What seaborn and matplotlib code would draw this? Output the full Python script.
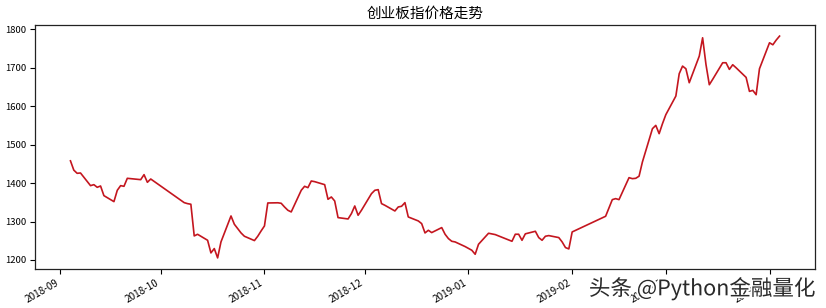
import matplotlib
matplotlib.use("Agg")
import matplotlib.pyplot as plt
import matplotlib.dates as mdates
import matplotlib.patheffects as pe
import seaborn as sns
import pandas as pd

dates = [
    "2018-09-04", "2018-09-05", "2018-09-06", "2018-09-07",
    "2018-09-10", "2018-09-11", "2018-09-12", "2018-09-13", "2018-09-14",
    "2018-09-17", "2018-09-18", "2018-09-19", "2018-09-20", "2018-09-21",
    "2018-09-25", "2018-09-26", "2018-09-27", "2018-09-28",
    "2018-10-08", "2018-10-09", "2018-10-10", "2018-10-11", "2018-10-12",
    "2018-10-15", "2018-10-16", "2018-10-17", "2018-10-18", "2018-10-19",
    "2018-10-22", "2018-10-23", "2018-10-24", "2018-10-25", "2018-10-26",
    "2018-10-29", "2018-10-30", "2018-10-31", "2018-11-01", "2018-11-02",
    "2018-11-05", "2018-11-06", "2018-11-07", "2018-11-08", "2018-11-09",
    "2018-11-12", "2018-11-13", "2018-11-14", "2018-11-15", "2018-11-16",
    "2018-11-19", "2018-11-20", "2018-11-21", "2018-11-22", "2018-11-23",
    "2018-11-26", "2018-11-27", "2018-11-28", "2018-11-29", "2018-11-30",
    "2018-12-03", "2018-12-04", "2018-12-05", "2018-12-06", "2018-12-07",
    "2018-12-10", "2018-12-11", "2018-12-12", "2018-12-13", "2018-12-14",
    "2018-12-17", "2018-12-18", "2018-12-19", "2018-12-20", "2018-12-21",
    "2018-12-24", "2018-12-25", "2018-12-26", "2018-12-27", "2018-12-28",
    "2018-12-31", "2019-01-02", "2019-01-03", "2019-01-04",
    "2019-01-07", "2019-01-08", "2019-01-09", "2019-01-10", "2019-01-11",
    "2019-01-14", "2019-01-15", "2019-01-16", "2019-01-17", "2019-01-18",
    "2019-01-21", "2019-01-22", "2019-01-23", "2019-01-24", "2019-01-25",
    "2019-01-28", "2019-01-29", "2019-01-30", "2019-01-31", "2019-02-01",
    "2019-02-11", "2019-02-12", "2019-02-13", "2019-02-14", "2019-02-15",
    "2019-02-18", "2019-02-19", "2019-02-20", "2019-02-21", "2019-02-22",
    "2019-02-25", "2019-02-26", "2019-02-27", "2019-02-28", "2019-03-01",
    "2019-03-04", "2019-03-05", "2019-03-06", "2019-03-07", "2019-03-08",
    "2019-03-11", "2019-03-12", "2019-03-13", "2019-03-14", "2019-03-15",
    "2019-03-18", "2019-03-19", "2019-03-20", "2019-03-21", "2019-03-22",
    "2019-03-25", "2019-03-26", "2019-03-27", "2019-03-28", "2019-03-29",
    "2019-04-01", "2019-04-02", "2019-04-03", "2019-04-04",
]

close = [
    1458.0, 1433.8, 1425.5, 1426.4,
    1393.4, 1396.0, 1389.1, 1392.5, 1367.4,
    1351.8, 1381.3, 1393.4, 1391.7, 1412.5,
    1409.0, 1422.0, 1402.1, 1410.7,
    1349.2, 1346.6, 1345.0, 1262.5, 1266.8,
    1251.2, 1218.3, 1229.6, 1205.3, 1246.9,
    1314.5, 1292.9, 1281.6, 1270.3, 1261.7,
    1250.4, 1261.7, 1275.5, 1288.5, 1348.3,
    1348.8, 1347.5, 1337.9, 1329.3, 1325.0,
    1381.3, 1391.7, 1388.2, 1405.5, 1403.8,
    1396.0, 1357.9, 1363.9, 1353.5, 1310.2,
    1306.7, 1320.6, 1340.5, 1316.3, 1329.3,
    1372.6, 1381.3, 1383.0, 1346.6, 1342.3,
    1327.5, 1337.9, 1339.7, 1349.2, 1311.9,
    1301.5, 1294.6, 1270.3, 1277.2, 1271.2,
    1284.2, 1266.9, 1255.6, 1248.6, 1246.9,
    1234.8, 1225.2, 1214.8, 1240.8,
    1269.5, 1267.7, 1266.0, 1262.5, 1259.1,
    1248.6, 1266.9, 1266.9, 1251.2, 1268.0,
    1274.6, 1258.2, 1251.2, 1261.7, 1263.4,
    1258.2, 1246.9, 1232.2, 1228.7, 1272.9,
    1313.7, 1335.3, 1357.0, 1359.6, 1357.0,
    1414.2, 1411.6, 1412.5, 1418.0, 1455.0,
    1541.7, 1550.3, 1528.7, 1554.7, 1578.1,
    1626.6, 1684.7, 1704.6, 1697.7, 1661.3,
    1730.6, 1778.3, 1709.0, 1656.1, 1670.0,
    1713.3, 1713.3, 1696.0, 1708.1, 1700.3,
    1675.2, 1638.8, 1641.4, 1630.1, 1697.7,
    1765.3, 1760.1, 1772.3, 1782.7,
]

title = "创业板指价格走势"
watermark = "头条 @Python金融量化"

plt.rcParams["font.family"] = ["Noto Sans CJK SC", "DejaVu Sans"]
plt.rcParams["axes.unicode_minus"] = False

df = pd.DataFrame({"date": pd.to_datetime(dates), "close": close})

fig = plt.figure(figsize=(8.26, 3.08), dpi=100)
ax = fig.add_axes([35 / 826, 1 - 269 / 308, 780 / 826, 244 / 308])

sns.lineplot(data=df, x="date", y="close", ax=ax, color="#c4161f", linewidth=1.2)

ax.set_xlabel("")
ax.set_ylabel("")
ax.set_title(title, fontsize=10.5, pad=5)
ax.xaxis.set_major_locator(mdates.MonthLocator())
ax.xaxis.set_major_formatter(mdates.DateFormatter("%Y-%m"))
ax.tick_params(axis="both", length=3.5, width=0.8, pad=2.5)
ax.tick_params(axis="x", labelsize=7.2)
ax.tick_params(axis="y", labelsize=6.8)
for lbl in ax.get_xticklabels():
    lbl.set_rotation(30)
    lbl.set_ha("right")
for s in ax.spines.values():
    s.set_linewidth(0.9)
    s.set_color("#222222")

fig.text(0.987, 0.025, watermark, ha="right", va="bottom", fontsize=15.5,
         color="#2a2a2a",
         path_effects=[pe.withStroke(linewidth=2.5, foreground="white")])

fig.savefig("out.png", dpi=100)
